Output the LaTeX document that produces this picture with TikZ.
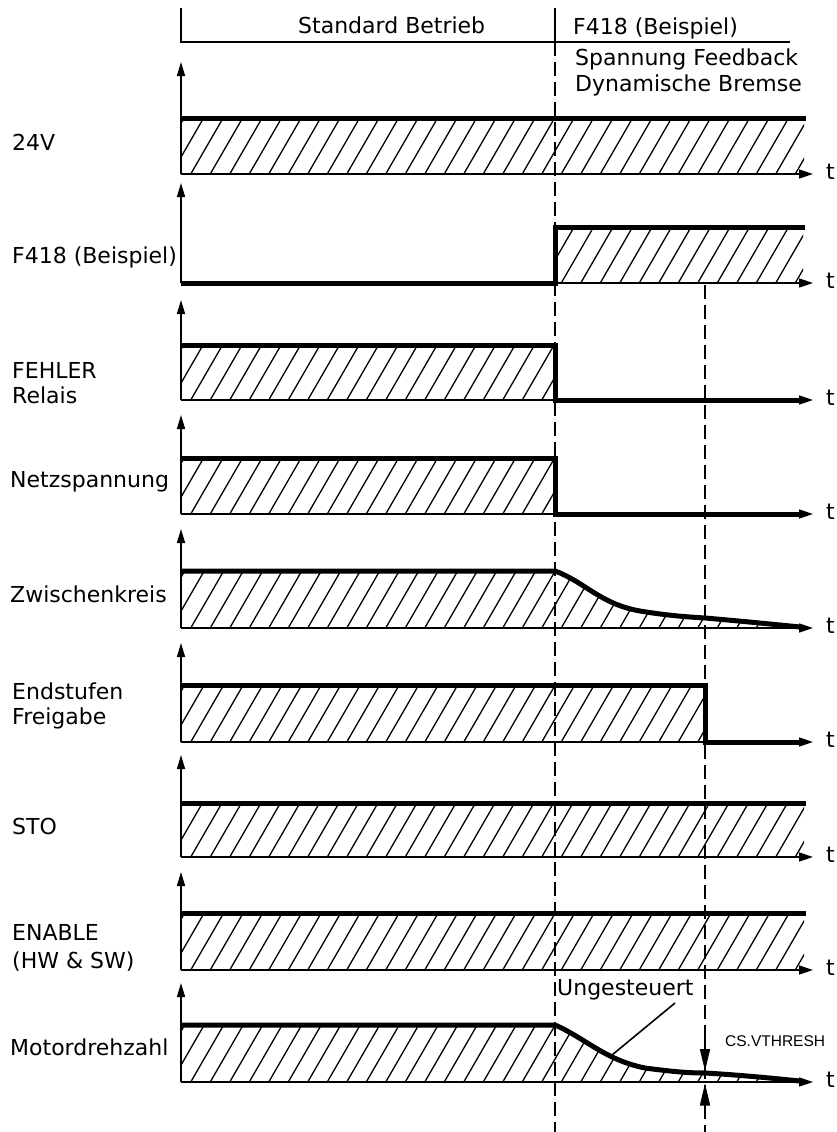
\documentclass[tikz,border=0pt]{standalone}
\usepackage{fontspec}
\setmainfont{DejaVu Sans}
\newfontfamily\paramfont{Liberation Sans}
\usetikzlibrary{arrows.meta}

% hatched area: clip to the given region and fill it with 60 degree lines
\newcommand\hatcharea[2]{%
  \begin{scope}
    \clip #1;
    \foreach \k in {150,169.5,...,840}
      \draw[hatchline] (\k,#2+3) -- ++(37,-64);
  \end{scope}}

\begin{document}
\begin{tikzpicture}[x=1pt,y=-1pt,
  axis/.style={line width=1.6pt,-{Triangle[length=14pt,width=9pt]}},
  yaxis/.style={line width=1.6pt,-{Triangle[length=14pt,width=8pt]}},
  level/.style={line width=5pt},
  hatchline/.style={line width=1.3pt},
  frame/.style={line width=1.6pt},
  marker/.style={line width=1.6pt,dash pattern=on 14pt off 6pt},
  dimarrow/.style={line width=1.6pt,-{Triangle[length=22pt,width=10pt]}},
  lbl/.style={anchor=base west,inner sep=0pt,font=\fontsize{22}{26}\selectfont},
  plbl/.style={anchor=base west,inner sep=0pt,font=\paramfont\fontsize{15.5}{18}\selectfont},
]
\useasboundingbox (0,0) rectangle (837,1132);

% ---- phase markers -------------------------------------------------
\draw[marker] (555,42) -- (555,1132);
\draw[marker] (705,285) -- (705,1132);

% ---- header -------------------------------------------------------
\draw[frame] (181,8) -- (181,42) -- (790,42);
\draw[frame] (555,8) -- (555,42);
\node[lbl] (hdrA) at (298,34) {Standard Betrieb};
\node[lbl] (hdrB) at (573,35) {F418 (Beispiel)};
\node[lbl] (hdrC) at (575,66) {Spannung Feedback};
\node[lbl] (hdrD) at (575,91) {Dynamische Bremse};

% ---- 24V ------------------------------------------------------------
\hatcharea{(181,118) rectangle (804,174)}{174}
\draw[yaxis] (181,174) -- (181,62);
\draw[axis] (181,174) -- (813,174);
\draw[level] (181,118) -- (806,118);
\node[lbl] (l24) at (12,150) {24V};
\node[lbl] (t1) at (826,179) {t};

% ---- F418 -----------------------------------------------------------
\hatcharea{(555,227) rectangle (803,283)}{283}
\draw[yaxis] (181,283) -- (181,183);
\draw[axis] (181,283) -- (813,283);
\draw[level] (181,283) -- (555,283) -- (555,227) -- (805,227);
\node[lbl] (lf418) at (12,263) {F418 (Beispiel)};
\node[lbl] (t2) at (826,288) {t};

% ---- FEHLER Relais --------------------------------------------------
\hatcharea{(181,345) rectangle (555,400)}{400}
\draw[yaxis] (181,400) -- (181,300);
\draw[axis] (181,400) -- (813,400);
\draw[level] (181,345) -- (555,345) -- (555,400) -- (800,400);
\node[lbl] (lfa) at (12,378) {FEHLER};
\node[lbl] (lfb) at (12,403) {Relais};
\node[lbl] (t3) at (826,405) {t};

% ---- Netzspannung ---------------------------------------------------
\hatcharea{(181,458) rectangle (555,514)}{514}
\draw[yaxis] (181,514) -- (181,415);
\draw[axis] (181,514) -- (813,514);
\draw[level] (181,458) -- (555,458) -- (555,514) -- (800,514);
\node[lbl] (lnetz) at (10,487) {Netzspannung};
\node[lbl] (t4) at (826,519) {t};

% ---- Zwischenkreis --------------------------------------------------
\begin{scope}
  \clip (181,628) -- (181,571) -- (555,571)
    .. controls (585,582) and (600,604) .. (640,611)
    .. controls (670,616) and (690,617) .. (705,618)
    .. controls (740,621) and (770,624) .. (800,627)
    -- (800,628) -- cycle;
  \foreach \k in {150,169.5,...,840}
    \draw[hatchline] (\k,631) -- ++(37,-64);
\end{scope}
\draw[yaxis] (181,628) -- (181,529);
\draw[axis] (181,628) -- (813,628);
\draw[level] (181,571) -- (555,571)
    .. controls (585,582) and (600,604) .. (640,611)
    .. controls (670,616) and (690,617) .. (705,618)
    .. controls (740,621) and (770,624) .. (800,627);
\node[lbl] (lzk) at (10,602) {Zwischenkreis};
\node[lbl] (t5) at (826,633) {t};

% ---- Endstufen Freigabe ---------------------------------------------
\hatcharea{(181,685) rectangle (705,742)}{742}
\draw[yaxis] (181,742) -- (181,643);
\draw[axis] (181,742) -- (813,742);
\draw[level] (181,685) -- (705,685) -- (705,742) -- (800,742);
\node[lbl] (lesa) at (12,699) {Endstufen};
\node[lbl] (lesb) at (12,724) {Freigabe};
\node[lbl] (t6) at (826,747) {t};

% ---- STO ------------------------------------------------------------
\hatcharea{(181,803) rectangle (804,857)}{857}
\draw[yaxis] (181,857) -- (181,755);
\draw[axis] (181,857) -- (813,857);
\draw[level] (181,803) -- (806,803);
\node[lbl] (lsto) at (12,834) {STO};
\node[lbl] (t7) at (826,862) {t};

% ---- ENABLE ---------------------------------------------------------
\hatcharea{(181,913) rectangle (804,970)}{970}
\draw[yaxis] (181,970) -- (181,872);
\draw[axis] (181,970) -- (813,970);
\draw[level] (181,913) -- (806,913);
\node[lbl] (lena) at (12,940) {ENABLE};
\node[lbl] (lenb) at (12,968) {(HW \& SW)};
\node[lbl] (t8) at (826,975) {t};

% ---- Motordrehzahl --------------------------------------------------
\begin{scope}
  \clip (181,1082) -- (181,1025) -- (555,1025)
    .. controls (585,1038) and (605,1060) .. (645,1068)
    .. controls (675,1072) and (690,1073) .. (705,1073)
    .. controls (740,1075) and (770,1078) .. (800,1081)
    -- (800,1082) -- cycle;
  \foreach \k in {150,169.5,...,840}
    \draw[hatchline] (\k,1085) -- ++(37,-64);
\end{scope}
\draw[yaxis] (181,1082) -- (181,983);
\draw[axis] (181,1082) -- (813,1082);
\draw[level] (181,1025) -- (555,1025)
    .. controls (585,1038) and (605,1060) .. (645,1068)
    .. controls (675,1072) and (690,1073) .. (705,1073)
    .. controls (740,1075) and (770,1078) .. (800,1081);
\draw[line width=2.2pt] (705,1073) -- (728,1073);
\node[lbl] (lmd) at (10,1055) {Motordrehzahl};
\node[lbl] (t9) at (826,1087) {t};

% threshold dimension
\coordinate (thrTop) at (705,1030);
\coordinate (thrLvl) at (705,1071);
\coordinate (thrBot) at (705,1112);
\coordinate (thrBase) at (705,1083.5);
\draw[dimarrow] (thrTop) -- (thrLvl);
\draw[dimarrow] (thrBot) -- (thrBase);
\node[plbl] (vth) at (725,1046) {CS.VTHRESH};

% uncontrolled run-down note
\node[lbl] (ung) at (557,995) {Ungesteuert};
\coordinate (ungA) at (675,1003);
\coordinate (ungB) at (612,1055);
\draw[line width=1.6pt] (ungA) -- (ungB);
\end{tikzpicture}
\end{document}
